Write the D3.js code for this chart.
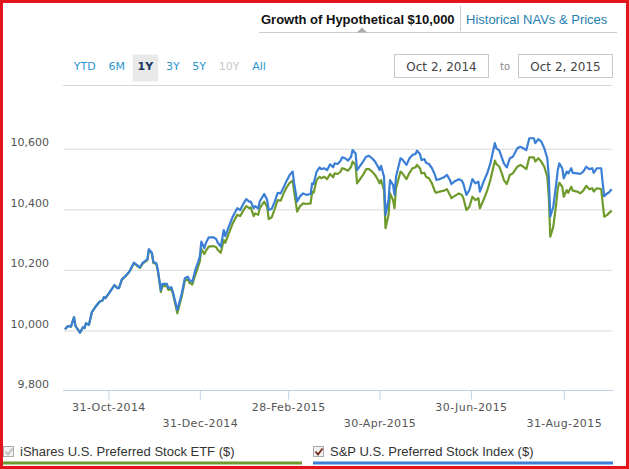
<!doctype html>
<html>
<head>
<meta charset="utf-8">
<script src="https://cdn.jsdelivr.net/npm/d3@7/dist/d3.min.js"></script>
<style>
html,body{
    margin: 0;
    padding: 0;
    background: #fff;
    overflow: hidden;
}
svg { display: block; }
</style>
</head>
<body>
<script>
// data: day offsets from the start date, values of $10,000
var startDate = "2014-10-02",
    endDate = "2015-10-02";

var dayOffsets = [0,2,4,6,7,10,12,13,14,16,18,20,23,25,26,27,30,33,35,36,38,40,43,46,50,52,55,56,58,59,
    61,62,64,65,68,69,71,72,75,78,80,82,83,85,87,89,90,91,93,94,96,99,101,102,104,106,107,109,112,115,
    117,119,121,123,124,126,127,129,130,133,135,136,138,140,142,144,146,148,150,152,153,155,157,159,161,164,165,166,168,170,
    171,173,175,177,179,180,182,184,185,187,189,191,192,194,195,197,199,201,203,205,207,209,210,211,213,214,216,217,219,220,
    221,224,225,228,230,232,234,235,237,238,240,241,243,245,247,248,250,253,255,257,258,260,263,265,266,268,270,272,274,276,
    277,279,282,284,287,288,290,292,293,295,297,299,302,304,306,308,310,313,314,316,318,320,322,323,324,326,328,329,330,332,
    333,335,336,338,339,342,344,346,348,350,352,353,355,358,359,360,362,363,365];

var indexValues = [10002,10013,10011,10042,10013,9991,10009,10006,10022,10017,10060,10074,10093,10097,10108,10105,10126,10148,10138,10138,
    10167,10176,10193,10222,10207,10222,10233,10267,10255,10224,10220,10198,10132,10152,10152,10138,10141,10126,10066,10121,
    10171,10176,10165,10159,10198,10226,10242,10292,10270,10286,10306,10306,10300,10288,10275,10330,10310,10336,10374,10402,
    10396,10416,10432,10424,10424,10402,10409,10401,10424,10449,10429,10396,10400,10424,10453,10451,10471,10493,10512,10523,
    10484,10424,10442,10451,10446,10449,10484,10482,10523,10537,10531,10534,10528,10547,10537,10550,10548,10559,10570,10567,
    10559,10572,10594,10583,10528,10542,10556,10572,10575,10567,10556,10539,10528,10542,10506,10380,10429,10495,10479,10446,
    10506,10567,10564,10545,10567,10578,10581,10592,10581,10561,10564,10552,10548,10534,10512,10495,10498,10504,10512,10495,
    10482,10490,10498,10493,10482,10446,10462,10498,10484,10490,10457,10484,10519,10550,10617,10600,10592,10564,10550,10537,
    10567,10572,10600,10605,10600,10594,10633,10633,10617,10630,10622,10600,10567,10506,10374,10407,10484,10528,10550,10534,
    10501,10523,10517,10534,10519,10517,10515,10523,10539,10531,10534,10519,10534,10534,10484,10442,10451,10453,10465];

var etfValues = [10002,10013,10011,10042,10013,9991,10009,10006,10022,10017,10060,10074,10093,10097,10108,10105,10126,10148,10138,10138,
    10167,10175,10192,10220,10205,10220,10231,10264,10253,10221,10218,10195,10125,10145,10145,10132,10135,10121,10055,10112,
    10162,10168,10156,10150,10182,10211,10226,10267,10251,10261,10275,10277,10273,10264,10255,10297,10288,10314,10352,10380,
    10376,10394,10409,10402,10405,10376,10385,10380,10402,10424,10405,10366,10372,10399,10429,10427,10451,10471,10486,10493,
    10457,10391,10409,10418,10416,10418,10457,10453,10495,10506,10501,10506,10498,10515,10504,10517,10515,10523,10534,10531,
    10526,10539,10556,10545,10484,10498,10512,10531,10531,10523,10512,10495,10484,10495,10462,10336,10380,10451,10429,10402,
    10468,10523,10519,10498,10519,10534,10537,10545,10534,10517,10519,10506,10501,10484,10457,10453,10457,10460,10465,10446,
    10435,10442,10451,10446,10435,10396,10407,10440,10429,10435,10402,10424,10462,10495,10559,10548,10539,10512,10495,10482,
    10512,10517,10539,10545,10539,10531,10570,10570,10556,10567,10556,10539,10506,10440,10308,10341,10418,10468,10486,10473,
    10440,10462,10453,10473,10460,10457,10451,10460,10476,10465,10468,10457,10468,10465,10418,10374,10380,10385,10394];

var yTicks = [9800, 10000, 10200, 10400, 10600];
var xTicks = ["2014-10-31", "2014-12-31", "2015-02-28", "2015-04-30", "2015-06-30", "2015-08-31"];
var rangeButtons = ["YTD", "6M", "1Y", "3Y", "5Y", "10Y", "All"];
var seriesNames = ["iShares U.S. Preferred Stock ETF ($)", "S&P U.S. Preferred Stock Index ($)"];
var dateLabels = ["Oct 2, 2014", "Oct 2, 2015"];

(function(){
    var w = 629, h = 469,
        blue = "#3a7fd5",
        green = "#6f9a2c",
        parse = d3.timeParse("%Y-%m-%d"),
        t0 = parse(startDate);

    var svg = d3.select("body").append("svg")
        .attr("width", w)
        .attr("height", h)
        .style("font-family", "'Liberation Sans', Arial, sans-serif");

    var x = d3.scaleTime()
        .domain([t0, parse(endDate)])
        .range([65, 611.7]);

    var y = d3.scaleLinear()
        .domain([9800, 10800])
        .range([390.5, 87.7]);

    // tabs at the top
    svg.append("text")
        .attr("x", 261).attr("y", 24)
        .style("font-size", "13px").style("font-weight", "bold").style("fill", "#111")
        .text("Growth of Hypothetical $10,000");
    svg.append("line")
        .attr("x1", 460.5).attr("x2", 460.5).attr("y1", 6).attr("y2", 31)
        .style("stroke", "#ccc");
    svg.append("text")
        .attr("x", 466).attr("y", 24)
        .style("font-size", "13px").style("fill", "#1f7fb0")
        .text("Historical NAVs & Prices");
    svg.append("line")
        .attr("x1", 259).attr("x2", 617).attr("y1", 32.5).attr("y2", 32.5)
        .style("stroke", "#ccc");
    svg.append("path")
        .attr("d", "M357,32.5L362,27.5L367,32.5Z")
        .style("fill", "#aaa");

    // range buttons
    var bx = 73.8;
    rangeButtons.forEach(function(b){
        var sel = b === "1Y";
        var t = svg.append("text")
            .attr("x", bx).attr("y", 70)
            .style("font-family", "'DejaVu Sans', Verdana, sans-serif")
            .style("font-size", "11px")
            .style("font-weight", sel ? "bold" : "normal")
            .style("fill", sel ? "#1b3763" : (b === "10Y" ? "#c6c6c6" : "#2a95d0"))
            .text(b);
        var tw = t.node().getComputedTextLength();
        if (sel) {
            svg.insert("rect", "text:last-child")
                .attr("x", bx - 5).attr("y", 54.5)
                .attr("width", tw + 10).attr("height", 27)
                .style("fill", "#e9e9e9");
        }
        bx += tw + 12.7;
    });

    // date boxes
    [[394.5, dateLabels[0]], [518.5, dateLabels[1]]].forEach(function(d){
        svg.append("rect")
            .attr("x", d[0]).attr("y", 54.5).attr("width", 94).attr("height", 23)
            .style("fill", "#fff").style("stroke", "#c8c8c8");
        svg.append("text")
            .attr("x", d[0] + 47).attr("y", 71).attr("text-anchor", "middle")
            .style("font-family", "'DejaVu Sans', Verdana, sans-serif")
            .style("font-size", "12px").style("fill", "#444")
            .text(d[1]);
    });
    svg.append("text")
        .attr("x", 505).attr("y", 70).attr("text-anchor", "middle")
        .style("font-family", "'DejaVu Sans', Verdana, sans-serif")
        .style("font-size", "10px").style("fill", "#888")
        .text("to");
    svg.append("line")
        .attr("x1", 63).attr("x2", 612).attr("y1", 85.5).attr("y2", 85.5)
        .style("stroke", "#d6d6d6");

    // grid + y labels
    var yAxis = svg.append("g")
        .attr("transform", "translate(64,0)")
        .call(d3.axisLeft(y).tickValues(yTicks).tickSize(-548).tickFormat(d3.format(",")));
    yAxis.select(".domain").remove();
    yAxis.selectAll(".tick line")
        .style("stroke", function(d){ return d === 9800 ? "none" : "#d9d9d9"; })
        .attr("transform", "translate(0,0.5)");
    yAxis.selectAll(".tick text")
        .attr("x", -15).attr("dy", "-0.25em")
        .style("font-family", "'DejaVu Sans', Verdana, sans-serif")
        .style("font-size", "11px").style("fill", "#555");

    // x axis
    var xAxis = svg.append("g")
        .attr("transform", "translate(0,390.5)")
        .call(d3.axisBottom(x).tickValues(xTicks.map(parse)).tickSize(9)
            .tickFormat(d3.timeFormat("%d-%b-%Y")));
    xAxis.select(".domain")
        .attr("d", "M63,0H613")
        .style("stroke", "#c0d0e0");
    xAxis.selectAll(".tick line").style("stroke", "#c0d0e0");
    xAxis.selectAll(".tick text")
        .attr("y", function(d, i){ return i % 2 ? 36 : 20; })
        .attr("dy", 0)
        .style("font-family", "'DejaVu Sans', Verdana, sans-serif")
        .style("font-size", "11px").style("letter-spacing", "0.4px").style("fill", "#555");

    // lines
    var rows = dayOffsets.map(function(d, i){
        return { date: d3.timeDay.offset(t0, d), etf: etfValues[i], idx: indexValues[i] };
    });
    var lineFor = function(key){
        return d3.line()
            .x(function(d){ return x(d.date); })
            .y(function(d){ return y(d[key]); });
    };
    svg.append("path").datum(rows)
        .attr("d", lineFor("etf"))
        .style("fill", "none").style("stroke", green).style("stroke-width", 2.2)
        .style("stroke-linejoin", "round");
    svg.append("path").datum(rows)
        .attr("d", lineFor("idx"))
        .style("fill", "none").style("stroke", blue).style("stroke-width", 2.2)
        .style("stroke-linejoin", "round");

    // legend
    [[3, 302, green, "#bbb"], [313, 613, blue, "#7a2a1a"]].forEach(function(l, i){
        svg.append("rect")
            .attr("x", l[0] + 0.5).attr("y", 446.5).attr("width", 10).attr("height", 10)
            .style("fill", "#f2f2f2").style("stroke", "#aaa");
        svg.append("path")
            .attr("d", "M" + (l[0] + 2.5) + ",451.5l2.5,3l4.5,-6")
            .style("fill", "none").style("stroke", l[3]).style("stroke-width", 1.8);
        svg.append("text")
            .attr("x", l[0] + 17).attr("y", 456)
            .style("font-size", "13px").style("fill", "#333")
            .text(seriesNames[i]);
        svg.append("line")
            .attr("x1", l[0]).attr("x2", l[1]).attr("y1", 463).attr("y2", 463)
            .style("stroke", l[2]).style("stroke-width", 3);
    });

    // red frame
    svg.append("rect")
        .attr("x", 1.5).attr("y", 1.5).attr("width", w - 3).attr("height", h - 3)
        .style("fill", "none").style("stroke", "#e4141c").style("stroke-width", 3);
})();
</script>
</body>
</html>
